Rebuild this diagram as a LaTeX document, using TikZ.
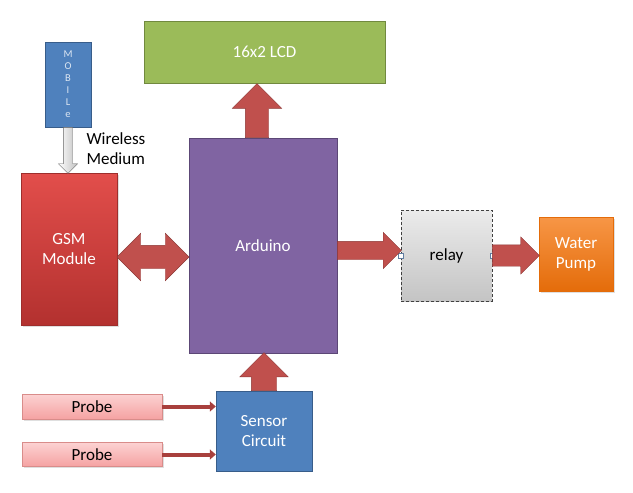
\documentclass[tikz,border=0pt]{standalone}
\usepackage{fontspec}
\setmainfont{Carlito}
\usetikzlibrary{shapes.arrows,shadows,arrows.meta}

\definecolor{lcdgreen}{HTML}{9BBB59}
\definecolor{lcdedge}{HTML}{71893F}
\definecolor{ardpurple}{HTML}{8064A2}
\definecolor{ardedge}{HTML}{5C4776}
\definecolor{gsmtop}{HTML}{E24E4B}
\definecolor{gsmbottom}{HTML}{B3312F}
\definecolor{gsmedge}{HTML}{9E2E2C}
\definecolor{arrowred}{HTML}{C0504D}
\definecolor{arrowedge}{HTML}{8C3836}
\definecolor{boxblue}{HTML}{4F81BD}
\definecolor{blueedge}{HTML}{385D8A}
\definecolor{pumptop}{HTML}{F79646}
\definecolor{pumpbottom}{HTML}{E46C0A}
\definecolor{relaytop}{HTML}{EBEBEB}
\definecolor{relaybottom}{HTML}{C4C4C4}
\definecolor{probetop}{HTML}{FCD2D2}
\definecolor{probebottom}{HTML}{F5A2A2}
\definecolor{probeedge}{HTML}{D98C8A}
\definecolor{probeline}{HTML}{A8403D}
\definecolor{mobiletext}{HTML}{DCE6F2}

\tikzset{
  blk/.style={rectangle, inner sep=0pt, align=center, text=white,
    font=\fontsize{17}{20}\selectfont},
  bigarrow/.style={single arrow, draw=arrowedge, fill=arrowred, inner xsep=0pt,
    pos=0, anchor=tail, sloped, minimum height=#1},
  handle/.style={rectangle, draw=blueedge!80, fill=white, inner sep=0pt,
    minimum size=5pt},
  shade/.style={drop shadow={opacity=0.25, shadow xshift=1.5pt, shadow yshift=-1.5pt}},
}

\begin{document}
\begin{tikzpicture}[x=1pt, y=-1pt]
\useasboundingbox (0,0) rectangle (633,493);

\node[blk, fill=lcdgreen, draw=lcdedge, minimum width=241, minimum height=62] (lcd) at (264.5,52) {16x2 LCD};
\node[blk, fill=boxblue, draw=blueedge, minimum width=46, minimum height=85,
  text=mobiletext, font=\fontsize{10.5}{12}\selectfont] (mobile) at (68,84.5) {M\\O\\B\\I\\L\\e};
\node[blk, shade, top color=gsmtop, bottom color=gsmbottom, draw=gsmedge,
  minimum width=96, minimum height=152] (gsm) at (69,249) {GSM\\Module};
\node[blk, fill=ardpurple, draw=ardedge, minimum width=148, minimum height=215] (ard) at (263,245.5) {Arduino};
\node[blk, top color=relaytop, bottom color=relaybottom, draw=black!75, densely dashed,
  text=black, minimum width=91, minimum height=91] (relay) at (446.5,255.5) {relay};
\node[blk, shade, top color=pumptop, bottom color=pumpbottom, draw=pumpbottom,
  minimum width=74, minimum height=74] (pump) at (576,254) {Water\\Pump};
\node[blk, fill=boxblue, draw=blueedge, minimum width=96, minimum height=80] (sensor) at (264,431) {Sensor\\Circuit};
\node[blk, shade, top color=probetop, bottom color=probebottom, draw=probeedge, text=black,
  minimum width=140, minimum height=25] (probe1) at (92,406.5) {Probe};
\node[blk, shade, top color=probetop, bottom color=probebottom, draw=probeedge, text=black,
  minimum width=140, minimum height=24] (probe2) at (92,454.5) {Probe};
\node[anchor=west, align=left, font=\fontsize{17}{20}\selectfont] (wireless) at (83,149) {Wireless\\Medium};

\node[handle] (relayin) at (relay.west) {};
\node[handle] (relayout) at (relay.east) {};

\path (mobile.south) -- (mobile.south |- gsm.north)
  node[single arrow, draw=black!60, left color=white, right color=black!25, inner xsep=0pt,
    inner ysep=4.5, pos=0, anchor=tail, sloped, minimum height=46, single arrow head extend=5] {};
\path ([xshift=-6pt]ard.north) -- ([xshift=-6pt]ard.north |- lcd.south)
  node[bigarrow=54, inner ysep=11.5, single arrow head extend=13] {};
\path (sensor.north) -- (sensor.north |- ard.south)
  node[bigarrow=38, inner ysep=12.5, single arrow head extend=11.5] {};
\path ([yshift=-5pt]ard.east) -- ([yshift=-5pt]ard.east -| relay.west)
  node[bigarrow=64, inner ysep=9, single arrow head extend=9] {};
\path (relay.east) -- (relay.east -| pump.west)
  node[bigarrow=47, inner ysep=10.5, single arrow head extend=8] {};
\path ([yshift=-8pt]gsm.east) -- ([yshift=-8pt]gsm.east -| ard.west)
  node[double arrow, draw=arrowedge, fill=arrowred, inner xsep=0pt, inner ysep=11.5,
    midway, sloped, minimum height=72, double arrow head extend=12] {};

\draw[probeline, line width=4pt, -{Triangle[width=10pt,length=6pt]}] (probe1.east) -- (probe1.east -| sensor.west);
\draw[probeline, line width=4pt, -{Triangle[width=10pt,length=6pt]}] (probe2.east) -- (probe2.east -| sensor.west);
\end{tikzpicture}
\end{document}
